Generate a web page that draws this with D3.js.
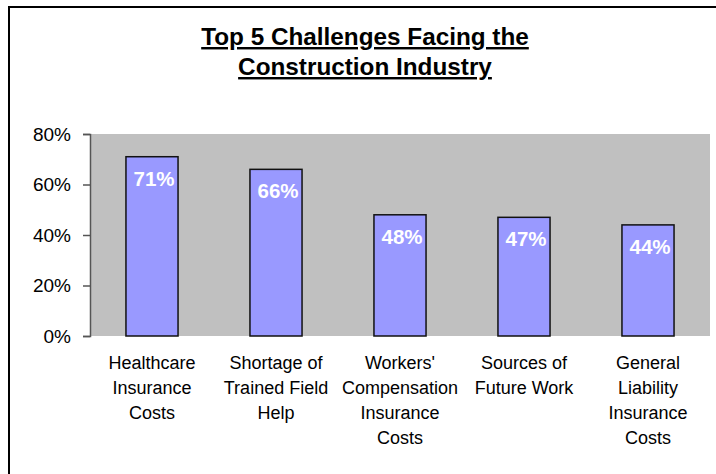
<!DOCTYPE html>
<html>
<head>
<meta charset="utf-8">
<script src="https://cdn.jsdelivr.net/npm/d3@7"></script>
<style>
  body { margin: 0; background: #fff; }
  svg { display: block; font-family: "Liberation Sans", Arial, sans-serif; }
</style>
</head>
<body>
<div id="container"></div>
<script>
/* CONSTANTS AND GLOBALS */
const width = 716;
const height = 474;
const plot = { left: 90, right: 710, top: 134, bottom: 336 };

/* DATA */
const categories = [
  ["Healthcare", "Insurance", "Costs"],
  ["Shortage of", "Trained Field", "Help"],
  ["Workers'", "Compensation", "Insurance", "Costs"],
  ["Sources of", "Future Work"],
  ["General", "Liability", "Insurance", "Costs"]
];
const values = [0.71, 0.66, 0.48, 0.47, 0.44];
const yTicks = [0, 0.2, 0.4, 0.6, 0.8];
const titleLines = ["Top 5 Challenges Facing the", "Construction Industry"];

const data = categories.map((c, i) => ({ key: c.join(" "), lines: c, value: values[i] }));

/* SCALES */
const xScale = d3.scaleBand()
  .domain(data.map(d => d.key))
  .range([plot.left, plot.right])
  .paddingInner(0.58)
  .paddingOuter(0.29);

const yScale = d3.scaleLinear()
  .domain([0, 0.8])
  .range([plot.bottom, plot.top]);

/* HTML ELEMENTS */
const svg = d3.select("#container")
  .append("svg")
  .attr("width", width)
  .attr("height", height);

// outer frame (runs off the right and bottom edges)
svg.append("rect")
  .attr("x", 9)
  .attr("y", 7)
  .attr("width", 740)
  .attr("height", 500)
  .attr("fill", "none")
  .attr("stroke", "#000")
  .attr("stroke-width", 2);

// title
svg.append("g")
  .selectAll("text")
  .data(titleLines)
  .join("text")
  .attr("x", 365)
  .attr("y", (d, i) => 45 + i * 30)
  .attr("text-anchor", "middle")
  .attr("font-size", 24.3)
  .attr("font-weight", "bold")
  .attr("text-decoration", "underline")
  .text(d => d);

// plot background
svg.append("rect")
  .attr("x", plot.left)
  .attr("y", plot.top)
  .attr("width", plot.right - plot.left)
  .attr("height", plot.bottom - plot.top)
  .attr("fill", "#c0c0c0");

// bars
svg.selectAll("rect.bar")
  .data(data)
  .join("rect")
  .attr("class", "bar")
  .attr("x", d => xScale(d.key))
  .attr("y", d => yScale(d.value))
  .attr("width", xScale.bandwidth())
  .attr("height", d => yScale(0) - yScale(d.value))
  .attr("fill", "#9999ff")
  .attr("stroke", "#111")
  .attr("stroke-width", 1.5);

// value labels
svg.selectAll("text.label")
  .data(data)
  .join("text")
  .attr("class", "label")
  .attr("x", d => xScale(d.key) + xScale.bandwidth() / 2 + 2)
  .attr("y", d => yScale(d.value) + 29)
  .attr("text-anchor", "middle")
  .attr("fill", "white")
  .attr("font-size", 20.5)
  .attr("font-weight", "bold")
  .text(d => `${Math.round(d.value * 100)}%`);

// y-axis
const yAxis = d3.axisLeft(yScale)
  .tickValues(yTicks)
  .tickFormat(d3.format(".0%"))
  .tickSize(7)
  .tickPadding(12);

const yG = svg.append("g")
  .attr("class", "y-axis")
  .attr("transform", `translate(${plot.left},0)`)
  .call(yAxis);
yG.select(".domain").attr("stroke", "#555").attr("stroke-width", 1.5);
yG.selectAll(".tick line").attr("stroke", "#555").attr("stroke-width", 1.5);
yG.selectAll(".tick text")
  .attr("fill", "#000")
  .attr("font-size", 19)
  .attr("font-family", "Liberation Sans, Arial, sans-serif");

// category labels
svg.selectAll("text.cat")
  .data(data)
  .join("text")
  .attr("class", "cat")
  .attr("text-anchor", "middle")
  .attr("font-size", 18)
  .attr("x", d => xScale(d.key) + xScale.bandwidth() / 2)
  .attr("y", 369)
  .selectAll("tspan")
  .data(d => d.lines.map(l => ({ l, x: xScale(d.key) + xScale.bandwidth() / 2 })))
  .join("tspan")
  .attr("x", t => t.x)
  .attr("dy", (t, i) => i === 0 ? 0 : 25)
  .text(t => t.l);
</script>
</body>
</html>
